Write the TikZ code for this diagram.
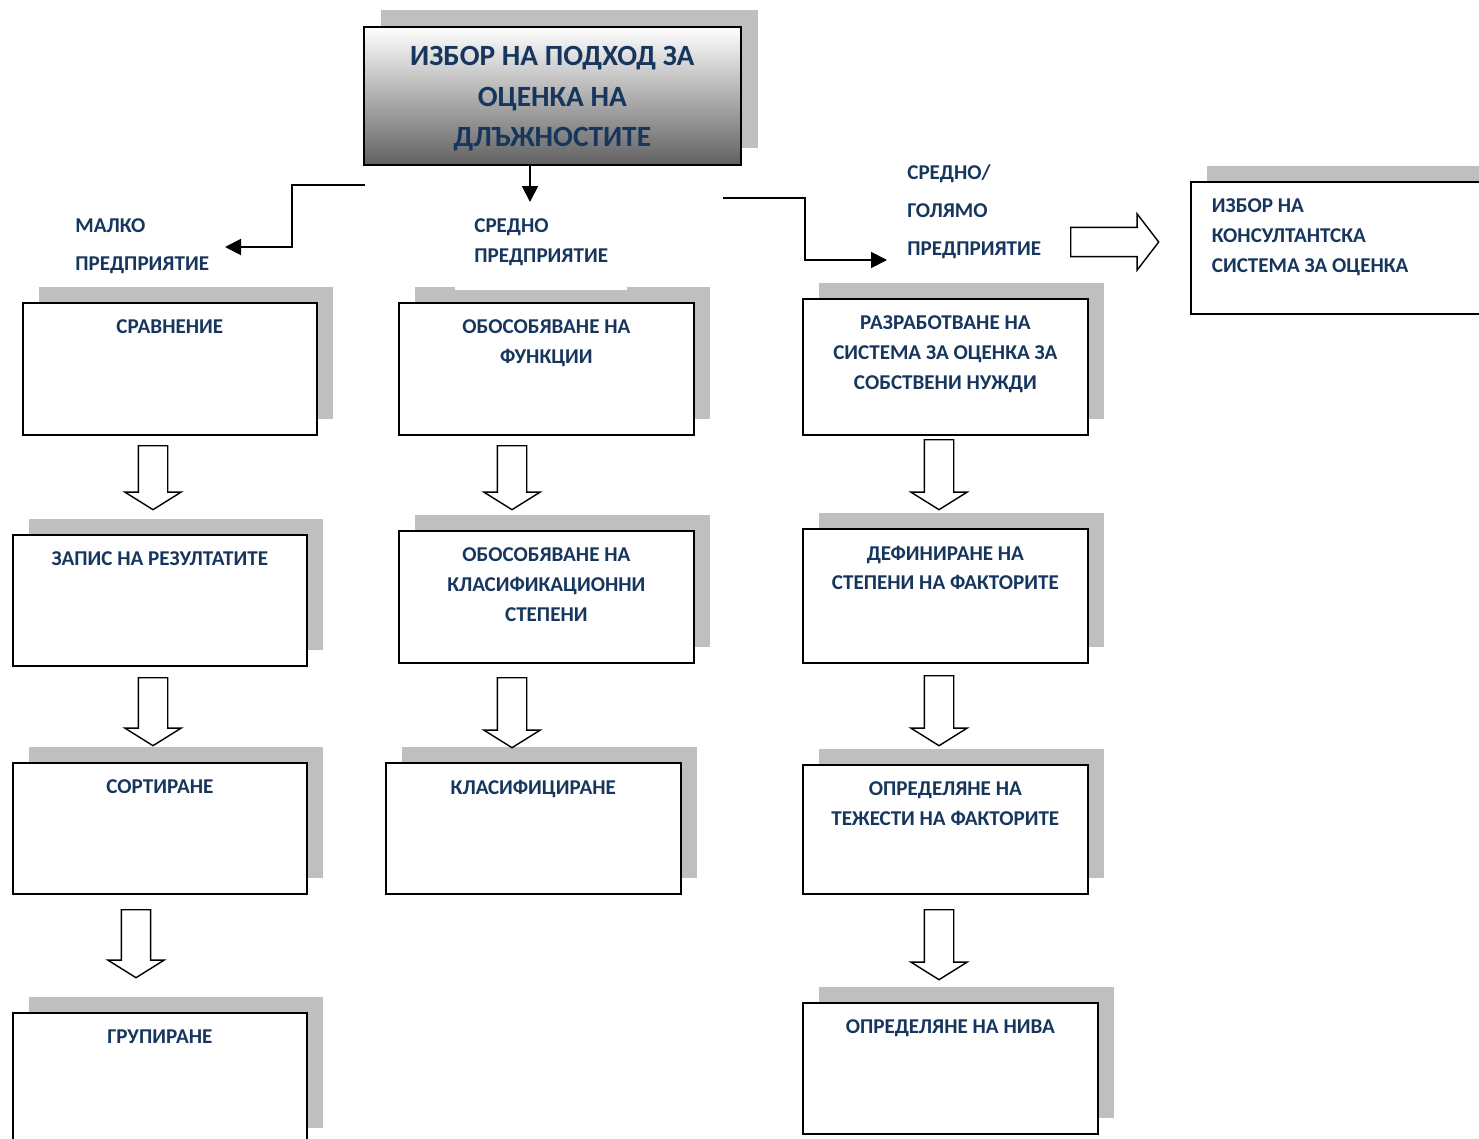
\documentclass[tikz,border=0pt]{standalone}
\usepackage{fontspec}
\setmainfont{Carlito}
\usetikzlibrary{shadows,shapes.arrows,arrows.meta,calc}
\definecolor{navytext}{HTML}{17365D}
\definecolor{shadowgray}{HTML}{BFBFBF}
\tikzset{
  boxw/.store in=\boxw, boxh/.store in=\boxh, boxalign/.store in=\boxalign,
  boxw=5.88cm, boxh=2.64cm, boxalign=\centering,
  stage/.style={draw, line width=1pt, fill=white, inner sep=0pt, anchor=north west,
    drop shadow={shadow xshift=0.32cm, shadow yshift=0.32cm, fill=shadowgray, opacity=1},
    font=\bfseries\fontsize{12}{17}\selectfont, text=navytext,
    execute at begin node={\begin{minipage}[c][\boxh][t]{\boxw}\boxalign\vspace*{0.34cm}},
    execute at end node={\end{minipage}}},
  headbox/.style={draw, line width=1pt, anchor=north west, inner sep=0pt,
    top color=white, middle color=black!20, bottom color=black!62,
    drop shadow={shadow xshift=0.34cm, shadow yshift=0.34cm, fill=shadowgray, opacity=1},
    font=\bfseries\fontsize{16.7}{23.3}\selectfont, text=navytext,
    execute at begin node={\begin{minipage}[c][2.76cm][t]{7.54cm}\centering\vspace*{0.38cm}},
    execute at end node={\end{minipage}}},
  sizelabel/.style={inner sep=0pt, anchor=north west, align=left, text=navytext,
    font=\bfseries\fontsize{12}{21.6}\selectfont},
  conn/.style={line width=1.1pt, -{Triangle[length=0.32cm,width=0.32cm]}},
  blockdown/.style={single arrow, draw, line width=0.8pt, fill=white, inner sep=0.28cm,
    minimum width=1.1cm, single arrow head extend=0.27cm,
    single arrow tip angle=116, shape border rotate=270, anchor=tail},
  blockright/.style={blockdown, single arrow tip angle=105, shape border rotate=0}
}
\begin{document}
\begin{tikzpicture}[x=0.02cm,y=-0.02cm]
\useasboundingbox (0,0) rectangle (1479,1138);
% title
\node[headbox] (title) at (363,26) {ИЗБОР НА ПОДХОД ЗА\\ОЦЕНКА НА\\ДЛЪЖНОСТИТЕ};
% small enterprise
\node[stage] (s1) at (22,302) {СРАВНЕНИЕ};
\node[stage, boxh=2.62cm] (s2) at (12,534) {ЗАПИС НА РЕЗУЛТАТИТЕ};
\node[stage, boxh=2.62cm] (s3) at (12,762) {СОРТИРАНЕ};
\node[stage, boxh=2.62cm] (s4) at (12,1012) {ГРУПИРАНЕ};
% medium enterprise
\node[stage, boxw=5.9cm] (m1) at (398,302) {ОБОСОБЯВАНЕ НА\\ФУНКЦИИ};
\node[stage, boxw=5.9cm] (m2) at (398,530) {ОБОСОБЯВАНЕ НА\\КЛАСИФИКАЦИОННИ\\СТЕПЕНИ};
\node[stage, boxw=5.9cm, boxh=2.62cm] (m3) at (385,762) {КЛАСИФИЦИРАНЕ};
% medium/large enterprise
\node[stage, boxw=5.7cm, boxh=2.72cm] (r1) at (802,298) {РАЗРАБОТВАНЕ НА\\СИСТЕМА ЗА ОЦЕНКА ЗА\\СОБСТВЕНИ НУЖДИ};
\node[stage, boxw=5.7cm, boxh=2.68cm] (r2) at (802,528) {ДЕФИНИРАНЕ НА\\СТЕПЕНИ НА ФАКТОРИТЕ};
\node[stage, boxw=5.7cm, boxh=2.58cm] (r3) at (802,764) {ОПРЕДЕЛЯНЕ НА\\ТЕЖЕСТИ НА ФАКТОРИТЕ};
\node[stage, boxw=5.9cm, boxh=2.62cm] (r4) at (802,1002) {ОПРЕДЕЛЯНЕ НА НИВА};
\node[stage, boxw=6.2cm, boxalign={\raggedright\leftskip=0.42cm}] (c1) at (1190,181) {ИЗБОР НА\\КОНСУЛТАНТСКА\\СИСТЕМА ЗА ОЦЕНКА};
% labels
\node[sizelabel] (small) at (75,218) {МАЛКО\\ПРЕДПРИЯТИЕ};
\node[sizelabel, fill=white, inner xsep=0.38cm, inner ysep=0.5cm,
  font=\bfseries\fontsize{12}{17}\selectfont] (mid) at (455,193) {СРЕДНО\\ПРЕДПРИЯТИЕ};
\node[sizelabel] (large) at (907,164) {СРЕДНО/\\ГОЛЯМО\\ПРЕДПРИЯТИЕ};
% connectors
\coordinate (sL) at (365,185);
\coordinate (eL) at (225,247);
\coordinate (eM) at (530,202);
\coordinate (sR) at (723,198);
\coordinate (eR) at (887,260);
\draw[conn] (sL) -| ($(sL)!0.52!(eL)$) |- (eL);
\draw[conn] (title.south -| eM) -- (eM);
\draw[conn] (sR) -| ($(sR)!0.5!(eR)$) |- (eR);
% block arrows
\node[blockdown, minimum height=1.28cm] (a1) at (153,445) {};
\node[blockdown, minimum height=1.36cm] (a2) at (153,677) {};
\node[blockdown, minimum height=1.36cm] (a3) at (136,909) {};
\node[blockdown, minimum height=1.28cm] (a4) at (512,445) {};
\node[blockdown, minimum height=1.4cm] (a5) at (512,677) {};
\node[blockdown, minimum height=1.4cm] (a6) at (939,439) {};
\node[blockdown, minimum height=1.4cm] (a7) at (939,675) {};
\node[blockdown, minimum height=1.4cm] (a8) at (939,909) {};
\node[blockright, minimum height=1.76cm] (a9) at (1070,242) {};
\end{tikzpicture}
\end{document}
